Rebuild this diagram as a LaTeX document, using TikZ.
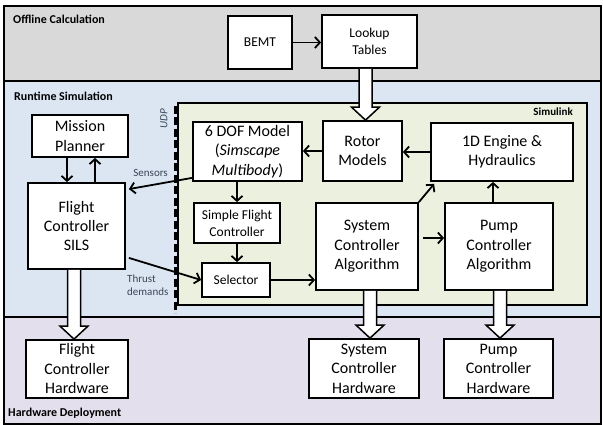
\documentclass[tikz,border=0pt]{standalone}
\usepackage{fontspec}
\setmainfont{Carlito}
\usetikzlibrary{arrows.meta,calc}
\definecolor{offline}{HTML}{D9D9D9}
\definecolor{runtime}{HTML}{DCE6F2}
\definecolor{hwdep}{HTML}{E4DFEC}
\definecolor{simlk}{HTML}{EBF1DE}
\definecolor{lbl}{HTML}{3A4658}

% Wide white block arrow from the bottom of #1 to the top of #2 at x = #3
\newcommand{\blockarrow}[3]{%
  \path (#3,0 |- #1.south) coordinate (ba1) (#3,0 |- #2.north) coordinate (ba2);
  \draw[hollow] ($(ba1)+(-6.5,0)$) -- ($(ba2)+(-6.5,-13)$) -- ($(ba2)+(-14,-13)$)
    -- (ba2) -- ($(ba2)+(14,-13)$) -- ($(ba2)+(6.5,-13)$) -- ($(ba1)+(6.5,0)$);
}

\begin{document}
\begin{tikzpicture}[x=1pt,y=-1pt,
  box/.style={draw,line width=1.8pt,fill=white,inner sep=0pt,align=center,
    font=\fontsize{16}{19.5}\selectfont},
  sbox/.style={box,font=\fontsize{13.5}{17}\selectfont},
  flow/.style={line width=1.8pt,-{Straight Barb[length=5pt,width=11pt]}},
  hollow/.style={draw,line width=1.5pt,fill=white,line join=miter},
  band/.style={draw,line width=1.2pt},
  title/.style={font=\bfseries\fontsize{12}{14}\selectfont,anchor=west,inner sep=0pt},
  note/.style={font=\fontsize{11}{13}\selectfont,text=lbl,inner sep=0pt}]

\useasboundingbox (0,0) rectangle (603,425);

% three horizontal bands
\path[band,fill=offline] (4,6) rectangle (601,81);
\path[band,fill=runtime] (4,81) rectangle (601,317);
\path[band,fill=hwdep] (4,317) rectangle (601,424);
\node[title] (offlbl) at (13,19) {Offline Calculation};
\node[title] (runlbl) at (14,96) {Runtime Simulation};
\node[title] (hwlbl) at (8,413) {Hardware Deployment};

% Simulink area
\path[draw,line width=1.2pt,fill=simlk] (178,103) rectangle (587,305);
\node[font=\bfseries\fontsize{11}{13}\selectfont,anchor=east,inner sep=0pt] (simlbl) at (573,112) {Simulink};

% UDP link
\draw[line width=3pt,dash pattern=on 8pt off 3.5pt] (175,106) -- (175,313);
\node[note,rotate=90,font=\itshape\fontsize{11}{13}\selectfont] (udp) at (164,119) {UDP};

% boxes
\node[sbox,minimum width=64pt,minimum height=53pt] (bemt) at (260,42.5) {BEMT};
\node[sbox,minimum width=95pt,minimum height=53pt] (lut) at (369.5,41.5) {Lookup\\Tables};
\node[box,minimum width=96pt,minimum height=42pt] (mp) at (80,136) {Mission\\Planner};
\node[box,minimum width=97pt,minimum height=86pt] (fc) at (76.5,226) {Flight\\Controller\\SILS};
\node[box,minimum width=109pt,minimum height=59pt] (dof) at (247.5,151.5)
  {6 DOF Model\\(\textit{Simscape}\\\textit{Multibody})};
\node[box,minimum width=79pt,minimum height=60pt] (rotor) at (362.5,151) {Rotor\\Models};
\node[box,minimum width=142pt,minimum height=58pt] (eng) at (502,152) {1D Engine \&\\Hydraulics};
\node[sbox,minimum width=86pt,minimum height=40pt] (sfc) at (237,223) {Simple Flight\\Controller};
\node[sbox,minimum width=68pt,minimum height=34pt] (sel) at (236,280) {Selector};
\node[box,minimum width=102pt,minimum height=87pt] (sys) at (367,246.5) {System\\Controller\\Algorithm};
\node[box,minimum width=108pt,minimum height=87pt] (pump) at (499,246.5) {Pump\\Controller\\Algorithm};
\node[box,minimum width=102pt,minimum height=58pt] (fchw) at (77,369) {Flight\\Controller\\Hardware};
\node[box,minimum width=110pt,minimum height=59pt] (syshw) at (364,368.5) {System\\Controller\\Hardware};
\node[box,minimum width=109pt,minimum height=59pt] (pumphw) at (498.5,368.5) {Pump\\Controller\\Hardware};

% block arrows
\blockarrow{lut}{rotor}{365.5}
\blockarrow{fc}{fchw}{74}
\blockarrow{sys}{syshw}{370}
\blockarrow{pump}{pumphw}{500}

% signal arrows
\draw[flow] (bemt.east) -- (lut.west |- bemt.east);
\draw[flow] (67,0 |- mp.south) -- (67,0 |- fc.north);
\draw[flow] (95,0 |- fc.north) -- (95,0 |- mp.south);
\draw[flow] ($(dof.south west)+(0,-4)$) -- ($(fc.north east)+(3,7)$);
\node[note,anchor=east] (sens) at (168,173) {Sensors};
\draw[flow] ($(fc.south east)+(3,-12)$) -- (sel.west);
\node[note,anchor=west,align=left] (thr) at (127,285) {Thrust\\demands};
\draw[flow] (rotor.west) -- (dof.east |- rotor.west);
\draw[flow] (eng.west) -- (rotor.east |- eng.west);
\draw[flow] (237,0 |- dof.south) -- (237,0 |- sfc.north);
\draw[flow] (237,0 |- sfc.south) -- (237,0 |- sel.north);
\draw[flow] (sel.east) -- (sys.west |- sel.east);
\draw[flow] ($(sys.east)+(4,-8.5)$) -- ($(pump.west)+(0,-8.5)$);
\draw[flow] (sys.north east) -- ($(eng.south west)+(4,2)$);
\draw[flow] (493,0 |- pump.north) -- (493,0 |- eng.south);
\end{tikzpicture}
\end{document}
